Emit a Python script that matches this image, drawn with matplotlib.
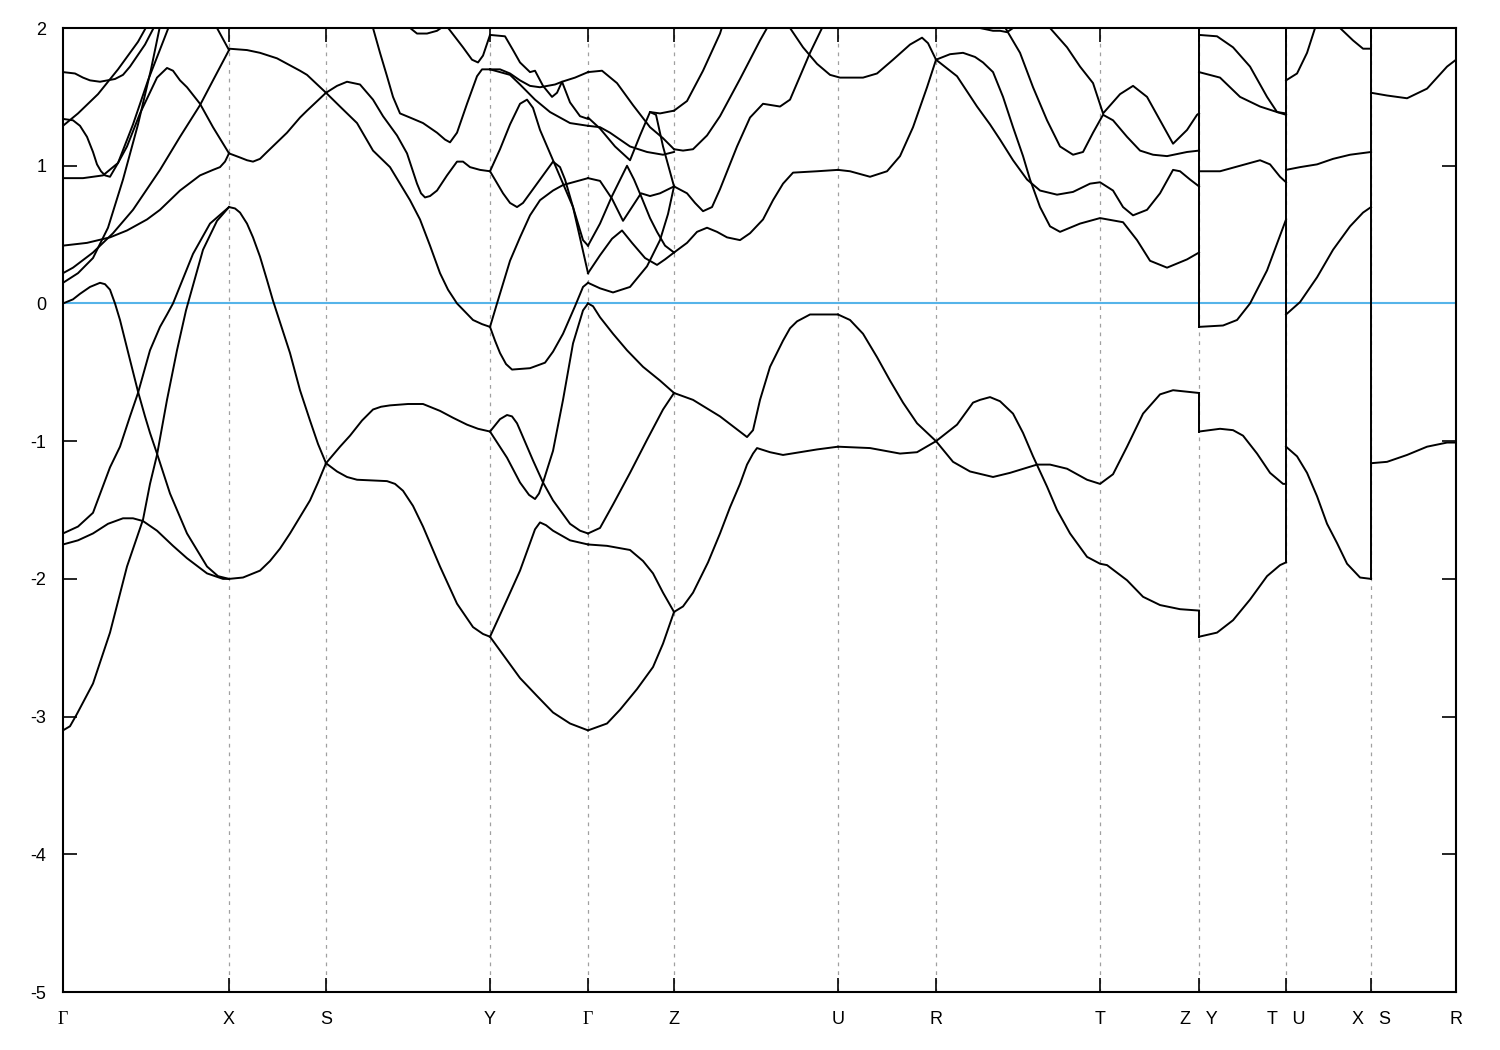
import matplotlib
matplotlib.use("Agg")
import matplotlib.pyplot as plt

plt.rcParams['font.family'] = ['Liberation Sans', 'DejaVu Sans']
plt.rcParams['axes.unicode_minus'] = False

# k-path positions (path length, arbitrary units) and labels
kpt_pos = [0, 166, 263, 427, 525, 611, 775, 873, 1037, 1136, 1223, 1308, 1393]
kpt_lab = ['Γ', 'X', 'S', 'Y', 'Γ', 'Z', 'U', 'R', 'T', 'Z   Y', 'T   U', 'X   S', 'R']
e_ticks = [-5, -4, -3, -2, -1, 0, 1, 2]

# bands, segment by segment: lists of (k, E)
gamma_x = [
    [(0, -3.10), (7, -3.07), (14, -2.98), (30, -2.76), (47, -2.39), (64, -1.91), (80, -1.57),
     (87, -1.31), (94, -1.10), (104, -0.70), (114, -0.34), (123, -0.05), (140, 0.39), (154, 0.60),
     (166, 0.70)],
    [(0, -1.75), (15, -1.72), (30, -1.67), (45, -1.60), (60, -1.56), (70, -1.56), (80, -1.58),
     (94, -1.65), (110, -1.76), (124, -1.85), (144, -1.96), (160, -2.0), (166, -2.0)],
    [(0, -1.67), (15, -1.62), (30, -1.52), (47, -1.19), (57, -1.04), (67, -0.82), (75, -0.65),
     (87, -0.34), (97, -0.17), (104, -0.08), (110, 0.0), (130, 0.36), (147, 0.58), (166, 0.70)],
    [(0, 0.0), (10, 0.03), (17, 0.07), (27, 0.12), (37, 0.15), (42, 0.14), (47, 0.10), (52, 0.0),
     (57, -0.12), (67, -0.41), (75, -0.64), (82, -0.82), (87, -0.94), (94, -1.09), (107, -1.38),
     (124, -1.67), (144, -1.91), (155, -1.98), (166, -2.0)],
    [(0, 0.42), (24, 0.44), (47, 0.48), (64, 0.53), (84, 0.61), (97, 0.68), (117, 0.82),
     (137, 0.93), (150, 0.97), (157, 0.99), (162, 1.03), (166, 1.09)],
    [(0, 0.22), (10, 0.26), (30, 0.37), (50, 0.51), (70, 0.68), (97, 0.97), (117, 1.21),
     (137, 1.44), (150, 1.62), (166, 1.84)],
    [(0, 1.34), (10, 1.33), (17, 1.29), (24, 1.21), (30, 1.10), (34, 1.01), (38, 0.96), (42, 0.93),
     (47, 0.92), (55, 1.02), (64, 1.14), (77, 1.38), (94, 1.64), (104, 1.71), (110, 1.69),
     (117, 1.62), (124, 1.57), (137, 1.45), (150, 1.28), (166, 1.09)],
    [(0, 0.91), (20, 0.91), (40, 0.93), (55, 1.02), (70, 1.30), (85, 1.62), (100, 1.90), (108, 2.05)],
    [(0, 0.15), (15, 0.22), (30, 0.33), (45, 0.55), (60, 0.90), (75, 1.30), (88, 1.70), (98, 2.05)],
    [(0, 1.29), (15, 1.38), (35, 1.52), (55, 1.70), (75, 1.90), (85, 2.03)],
    [(0, 1.68), (12, 1.67), (20, 1.64), (27, 1.62), (37, 1.61), (52, 1.63), (60, 1.66), (67, 1.72),
     (82, 1.88), (92, 2.02)],
    [(147, 2.05), (154, 2.0), (166, 1.84)],
]

x_s = [
    [(166, -2.0), (180, -1.99), (197, -1.94), (207, -1.87), (217, -1.78), (227, -1.67),
     (237, -1.55), (247, -1.43), (255, -1.30), (263, -1.16)],
    [(166, 0.70), (172, 0.69), (177, 0.66), (184, 0.58), (190, 0.48), (197, 0.34), (204, 0.17),
     (210, 0.02), (227, -0.36), (237, -0.63), (247, -0.85), (255, -1.02), (263, -1.16)],
    [(166, 1.09), (177, 1.06), (184, 1.04), (190, 1.03), (197, 1.05), (204, 1.10), (214, 1.17),
     (224, 1.24), (237, 1.35), (244, 1.40), (263, 1.53)],
    [(166, 1.85), (184, 1.84), (197, 1.82), (214, 1.78), (237, 1.69), (244, 1.66), (263, 1.53)],
]

s_y = [
    [(263, -1.16), (274, -1.22), (284, -1.26), (294, -1.28), (324, -1.29), (332, -1.31),
     (340, -1.36), (350, -1.47), (360, -1.62), (377, -1.91), (394, -2.18), (410, -2.35),
     (420, -2.40), (427, -2.42)],
    [(263, -1.16), (277, -1.04), (287, -0.96), (299, -0.85), (310, -0.77), (318, -0.75),
     (327, -0.74), (345, -0.73), (360, -0.73), (377, -0.78), (390, -0.83), (404, -0.88),
     (415, -0.91), (427, -0.93)],
    [(263, 1.53), (277, 1.43), (294, 1.31), (310, 1.11), (327, 0.99), (337, 0.87), (347, 0.75),
     (357, 0.61), (367, 0.42), (377, 0.22), (385, 0.10), (394, 0.0), (410, -0.12), (419, -0.15),
     (427, -0.17)],
    [(263, 1.53), (274, 1.58), (284, 1.61), (297, 1.59), (310, 1.48), (320, 1.36), (334, 1.22),
     (344, 1.09), (354, 0.87), (358, 0.80), (362, 0.77), (367, 0.78), (374, 0.82), (384, 0.93),
     (394, 1.03), (400, 1.03), (407, 0.99), (417, 0.97), (427, 0.96)],
    [(308, 2.05), (310, 2.0), (317, 1.82), (324, 1.65), (330, 1.50), (337, 1.38), (347, 1.35),
     (360, 1.31), (374, 1.24), (382, 1.19), (387, 1.17), (394, 1.24), (404, 1.45), (414, 1.65),
     (419, 1.70), (427, 1.70)],
    [(342, 2.03), (354, 1.96), (364, 1.96), (374, 1.98), (384, 2.03)],
    [(382, 2.03), (400, 1.86), (409, 1.77), (415, 1.75), (420, 1.80), (427, 1.95)],
]

y_gamma = [
    [(427, -2.42), (440, -2.55), (457, -2.72), (474, -2.85), (490, -2.97), (507, -3.05), (525, -3.10)],
    [(427, -2.42), (444, -2.15), (457, -1.94), (467, -1.74), (472, -1.64), (477, -1.59),
     (483, -1.61), (490, -1.65), (507, -1.72), (525, -1.75)],
    [(427, -0.93), (437, -0.84), (444, -0.81), (449, -0.82), (454, -0.87), (457, -0.92),
     (470, -1.14), (480, -1.30), (490, -1.43), (507, -1.60), (517, -1.65), (525, -1.67)],
    [(427, -0.93), (444, -1.12), (457, -1.30), (466, -1.39), (472, -1.42), (476, -1.38),
     (480, -1.30), (490, -1.07), (500, -0.70), (510, -0.29), (520, -0.05), (525, 0.0)],
    [(427, -0.17), (432, -0.27), (437, -0.36), (443, -0.44), (449, -0.48), (467, -0.47),
     (482, -0.43), (490, -0.35), (500, -0.22), (512, -0.02), (520, 0.12), (525, 0.15)],
    [(427, -0.17), (434, 0.0), (447, 0.31), (457, 0.48), (467, 0.64), (477, 0.75), (490, 0.82),
     (500, 0.86), (525, 0.91)],
    [(427, 0.96), (437, 1.12), (447, 1.30), (457, 1.45), (464, 1.48), (470, 1.42), (477, 1.26),
     (490, 1.04), (500, 0.87), (510, 0.70), (520, 0.46), (525, 0.42)],
    [(427, 0.96), (440, 0.80), (447, 0.73), (454, 0.70), (460, 0.73), (467, 0.80), (477, 0.90),
     (490, 1.03), (497, 0.99), (502, 0.90), (510, 0.70), (525, 0.22)],
    [(427, 1.95), (442, 1.94), (450, 1.84), (457, 1.75), (467, 1.68), (472, 1.69), (480, 1.58),
     (489, 1.50), (494, 1.53), (499, 1.61), (512, 1.64), (525, 1.68)],
    [(427, 1.70), (437, 1.70), (447, 1.67), (457, 1.62), (467, 1.58), (477, 1.57), (492, 1.59),
     (499, 1.61), (507, 1.46), (517, 1.36), (525, 1.34)],
    [(427, 1.70), (447, 1.66), (457, 1.59), (472, 1.48), (487, 1.39), (507, 1.31), (525, 1.29)],
]

gamma_z = [
    [(525, -3.10), (544, -3.05), (557, -2.95), (574, -2.80), (590, -2.64), (600, -2.47), (611, -2.24)],
    [(525, -1.75), (544, -1.76), (567, -1.79), (580, -1.87), (590, -1.96), (600, -2.10), (611, -2.24)],
    [(525, -1.67), (537, -1.63), (550, -1.46), (567, -1.23), (584, -0.99), (600, -0.77), (611, -0.65)],
    [(525, 0.0), (530, -0.02), (537, -0.10), (550, -0.22), (564, -0.34), (580, -0.46),
     (597, -0.56), (611, -0.65)],
    [(525, 0.15), (537, 0.11), (550, 0.08), (567, 0.12), (584, 0.27), (597, 0.46), (605, 0.65),
     (611, 0.85)],
    [(525, 0.22), (537, 0.35), (549, 0.47), (559, 0.53), (569, 0.44), (582, 0.33), (594, 0.28),
     (602, 0.32), (611, 0.37)],
    [(525, 0.42), (537, 0.58), (549, 0.78), (564, 1.00), (571, 0.90), (578, 0.78), (587, 0.62),
     (594, 0.52), (602, 0.42), (611, 0.37)],
    [(525, 0.91), (537, 0.89), (549, 0.76), (560, 0.60), (569, 0.70), (578, 0.80), (587, 0.78),
     (597, 0.80), (611, 0.85)],
    [(525, 1.35), (537, 1.27), (552, 1.14), (567, 1.04), (577, 1.22), (587, 1.39), (593, 1.37),
     (600, 1.14), (611, 0.85)],
    [(525, 1.29), (537, 1.28), (547, 1.24), (557, 1.19), (567, 1.14), (584, 1.10), (600, 1.08),
     (611, 1.10)],
    [(525, 1.68), (539, 1.69), (554, 1.60), (570, 1.44), (587, 1.28), (600, 1.20), (611, 1.12)],
    [(587, 1.39), (597, 1.38), (611, 1.40)],
]

z_u = [
    [(611, -2.24), (620, -2.20), (630, -2.10), (645, -1.88), (657, -1.67), (667, -1.48),
     (677, -1.31), (684, -1.17), (690, -1.09), (694, -1.05), (707, -1.08), (720, -1.10),
     (737, -1.08), (754, -1.06), (775, -1.04)],
    [(611, -0.65), (630, -0.70), (657, -0.82), (684, -0.97), (690, -0.92), (697, -0.70),
     (707, -0.46), (720, -0.27), (727, -0.18), (734, -0.13), (747, -0.08), (775, -0.08)],
    [(611, 0.37), (624, 0.44), (634, 0.52), (644, 0.55), (654, 0.52), (664, 0.48), (677, 0.46),
     (687, 0.51), (700, 0.61), (710, 0.75), (720, 0.87), (730, 0.95), (754, 0.96), (775, 0.97)],
    [(611, 0.85), (624, 0.80), (632, 0.73), (640, 0.67), (649, 0.70), (657, 0.83), (674, 1.14),
     (687, 1.35), (700, 1.45), (717, 1.43), (727, 1.48), (737, 1.65), (747, 1.82), (759, 2.0),
     (762, 2.05)],
    [(611, 1.12), (620, 1.11), (630, 1.12), (644, 1.22), (657, 1.36), (677, 1.63), (687, 1.77),
     (697, 1.91), (704, 2.0), (707, 2.04)],
    [(611, 1.40), (624, 1.47), (640, 1.69), (657, 1.96), (660, 2.03)],
]

u_r = [
    [(775, -1.04), (807, -1.05), (837, -1.09), (854, -1.08), (873, -1.0)],
    [(775, -0.08), (787, -0.12), (800, -0.22), (814, -0.39), (827, -0.56), (840, -0.72),
     (854, -0.87), (873, -1.0)],
    [(775, 0.97), (787, 0.96), (807, 0.92), (824, 0.96), (837, 1.07), (850, 1.28), (864, 1.57),
     (873, 1.77)],
    [(722, 2.05), (727, 2.0), (740, 1.86), (754, 1.74), (767, 1.66), (777, 1.64), (800, 1.64),
     (814, 1.67), (830, 1.77), (847, 1.88), (859, 1.93), (865, 1.89), (873, 1.77)],
]

r_t_z = [
    [(873, -1.0), (894, -0.88), (910, -0.72), (917, -0.70), (927, -0.68), (937, -0.71), (950, -0.80),
     (960, -0.94), (970, -1.11), (984, -1.33), (994, -1.50), (1007, -1.67), (1024, -1.84),
     (1037, -1.89), (1044, -1.90), (1064, -2.01), (1080, -2.13), (1097, -2.19), (1117, -2.22),
     (1136, -2.23)],
    [(873, -1.0), (890, -1.15), (907, -1.22), (930, -1.26), (947, -1.23), (974, -1.17), (987, -1.17),
     (1004, -1.20), (1024, -1.28), (1037, -1.31), (1050, -1.24), (1064, -1.04), (1080, -0.80),
     (1097, -0.66), (1110, -0.63), (1136, -0.65)],
    [(873, 1.77), (887, 1.81), (900, 1.82), (912, 1.79), (920, 1.75), (930, 1.68), (940, 1.50),
     (950, 1.28), (960, 1.07), (967, 0.90), (977, 0.70), (987, 0.56), (997, 0.52), (1017, 0.58),
     (1037, 0.62), (1060, 0.59), (1074, 0.46), (1087, 0.31), (1104, 0.26), (1124, 0.32), (1136, 0.37)],
    [(873, 1.77), (894, 1.65), (914, 1.43), (927, 1.30), (937, 1.19), (950, 1.04), (964, 0.90),
     (977, 0.82), (994, 0.79), (1010, 0.81), (1027, 0.87), (1037, 0.88), (1050, 0.82), (1060, 0.70),
     (1070, 0.64), (1084, 0.68), (1097, 0.80), (1110, 0.97), (1117, 0.96), (1127, 0.90), (1136, 0.85)],
    [(940, 2.03), (944, 1.98), (957, 1.82), (970, 1.57), (984, 1.33), (997, 1.14), (1010, 1.08),
     (1020, 1.10), (1030, 1.24), (1040, 1.37), (1050, 1.33), (1064, 1.21), (1077, 1.11),
     (1090, 1.08), (1104, 1.07), (1124, 1.10), (1136, 1.11)],
    [(984, 2.03), (987, 2.0), (1004, 1.86), (1017, 1.72), (1030, 1.60), (1040, 1.38), (1057, 1.52),
     (1070, 1.58), (1084, 1.50), (1097, 1.33), (1110, 1.16), (1124, 1.26), (1134, 1.37), (1136, 1.38)],
    [(912, 2.02), (917, 2.0), (930, 1.98), (937, 1.98), (944, 1.97), (950, 2.0), (955, 2.03)],
]

y_t = [
    [(1136, 1.95), (1154, 1.94), (1170, 1.86), (1187, 1.72), (1204, 1.50), (1214, 1.39), (1223, 1.38)],
    [(1136, 1.68), (1157, 1.64), (1177, 1.50), (1197, 1.43), (1214, 1.39), (1223, 1.37)],
    [(1136, 0.96), (1157, 0.96), (1177, 1.0), (1197, 1.04), (1207, 1.01), (1217, 0.92), (1223, 0.88)],
    [(1136, -0.17), (1160, -0.16), (1174, -0.12), (1187, 0.0), (1204, 0.24), (1223, 0.61)],
    [(1136, -0.93), (1157, -0.91), (1170, -0.92), (1180, -0.96), (1194, -1.09), (1207, -1.23),
     (1220, -1.31), (1223, -1.31)],
    [(1136, -2.42), (1154, -2.39), (1170, -2.30), (1187, -2.15), (1204, -1.98), (1217, -1.90),
     (1223, -1.88)],
]

u_x = [
    [(1223, 1.62), (1234, 1.67), (1244, 1.82), (1252, 2.0), (1254, 2.05)],
    [(1275, 2.04), (1277, 2.0), (1290, 1.91), (1300, 1.85), (1308, 1.85)],
    [(1223, 0.97), (1237, 0.99), (1254, 1.01), (1270, 1.05), (1287, 1.08), (1308, 1.10)],
    [(1223, -0.08), (1237, 0.01), (1254, 0.19), (1270, 0.39), (1287, 0.56), (1300, 0.66), (1308, 0.70)],
    [(1223, -1.04), (1234, -1.11), (1244, -1.23), (1254, -1.40), (1264, -1.60), (1274, -1.74),
     (1284, -1.89), (1297, -1.99), (1308, -2.0)],
]

s_r = [
    [(1308, 1.53), (1324, 1.51), (1344, 1.49), (1364, 1.56), (1384, 1.72), (1393, 1.77)],
    [(1308, -1.16), (1324, -1.15), (1344, -1.10), (1364, -1.04), (1384, -1.01), (1393, -1.01)],
]

# vertical jumps where the path is broken (k, E from, E to)
jumps = [(1136, -2.42, -2.23), (1136, -0.93, -0.65), (1136, -0.17, 2.1),
         (1223, -1.88, 2.1), (1308, -2.0, 2.1)]

fig, ax = plt.subplots(figsize=(15, 10.5), dpi=100)
fig.subplots_adjust(left=0.042, right=0.9707, top=0.9733, bottom=0.0552)

for k in kpt_pos[1:-1]:
    ax.axvline(k, color='#a0a0a0', lw=0.9, ls=(0, (3, 4)), zorder=1)

ax.axhline(0, color='#56b4e9', lw=1.5, zorder=2)

for seg in [gamma_x, x_s, s_y, y_gamma, gamma_z, z_u, u_r, r_t_z, y_t, u_x, s_r]:
    for band in seg:
        k, e = zip(*band)
        ax.plot(k, e, color='black', lw=1.4, zorder=3)

for k, e0, e1 in jumps:
    ax.plot([k, k], [e0, e1], color='black', lw=1.4, zorder=3)

ax.set_xlim(kpt_pos[0], kpt_pos[-1])
ax.set_ylim(-5, 2)
ax.set_xticks(kpt_pos)
ax.set_xticklabels(kpt_lab)
ax.set_yticks(e_ticks)
ax.tick_params(direction='in', length=10, width=1.2, labelsize=13,
               top=True, right=True)
ax.tick_params(axis='x', pad=14)
ax.tick_params(axis='y', pad=12)
for lab in ax.get_xticklabels():
    if lab.get_text() == 'Γ':
        lab.set_fontfamily(['Liberation Serif', 'DejaVu Serif'])
for sp in ax.spines.values():
    sp.set_linewidth(1.5)

plt.savefig('out.png')
